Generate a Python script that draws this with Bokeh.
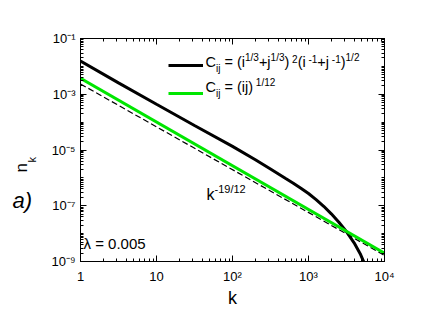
import numpy as np
from bokeh.plotting import figure
from bokeh.layouts import row
from bokeh.models import (Range1d, FixedTicker, CustomJSTickFormatter, LogAxis,
                          Label, Legend, LegendItem)
from bokeh.core.properties import value
from bokeh.embed import file_html
from bokeh.resources import INLINE

# ---------------- data ----------------
k_black = [1, 3.16, 10, 31.6, 100, 200, 316, 501, 631, 794, 1000, 1259, 1585,
           1995, 2512, 3162, 3981, 4786, 5370, 5754]
n_black = [1.55e-2, 2.55e-3, 4.37e-4, 7.6e-5, 1.35e-5, 4.47e-6, 2.09e-6,
           9.55e-7, 6.46e-7, 4.27e-7, 2.75e-7, 1.66e-7, 9.55e-8, 5.13e-8,
           2.57e-8, 1.17e-8, 4.68e-9, 1.91e-9, 9.3e-10, 5.6e-10]
k_green = [1, 1e4]
n_green = [3.72e-3, 2.0e-9]
k_ref = [1, 1e4]
n_ref = [2.34e-3, 1.66e-9]

x_major = [1, 10, 100, 1000, 10000]
x_minor = [m * 10 ** e for e in range(0, 4) for m in range(1, 10)] + [10000]
y_major = [1e-9, 1e-7, 1e-5, 1e-3, 1e-1]
y_minor = [m * 10.0 ** e for e in range(-9, -1) for m in range(1, 10)] + [1e-1]

FONT = "Liberation Sans"
H = 316
LEFT_W = 46
TOP, BOTTOM = 38, 55

p = figure(width=447 - LEFT_W, height=H, x_axis_type="log", y_axis_type="log",
           x_range=Range1d(1, 1e4), y_range=Range1d(1e-9, 1e-1),
           output_backend="svg", toolbar_location=None,
           min_border_left=80 - LEFT_W, min_border_right=63, min_border_top=TOP,
           min_border_bottom=BOTTOM)
p.grid.visible = False
p.outline_line_color = "black"
p.background_fill_color = "white"

fmt_code = """
const e = Math.round(Math.log10(tick));
if (e == 0) return "1";
if (e == 1) return "10";
const sup = {"-":"\u207b","0":"\u2070","1":"\u00b9","2":"\u00b2","3":"\u00b3","4":"\u2074",
             "5":"\u2075","6":"\u2076","7":"\u2077","8":"\u2078","9":"\u2079"};
let s = "10";
const t = String(e);
for (let i = 0; i < t.length; i++) { s += sup[t[i]]; }
return s;
"""

def style_axis(ax, show_labels):
    ax.major_tick_in = 6
    ax.major_tick_out = 0
    ax.minor_tick_in = 3
    ax.minor_tick_out = 0
    ax.axis_line_color = "black"
    ax.major_tick_line_color = "black"
    ax.minor_tick_line_color = "black"
    ax.major_label_text_font = FONT
    ax.major_label_text_font_size = "13px"
    ax.major_label_text_color = "black"
    if show_labels:
        ax.formatter = CustomJSTickFormatter(code=fmt_code)
    else:
        ax.formatter = CustomJSTickFormatter(code='return "";')
        ax.major_label_standoff = 0

p.xaxis[0].ticker = FixedTicker(ticks=x_major, minor_ticks=x_minor)
p.yaxis[0].ticker = FixedTicker(ticks=y_major, minor_ticks=y_minor)
style_axis(p.xaxis[0], True)
style_axis(p.yaxis[0], True)
p.xaxis[0].major_label_standoff = 7
p.yaxis[0].major_label_standoff = 5
p.xaxis[0].axis_label = "k"
p.xaxis[0].axis_label_text_font = FONT
p.xaxis[0].axis_label_text_font_size = "18px"
p.xaxis[0].axis_label_text_font_style = "normal"
p.xaxis[0].axis_label_text_color = "black"
p.xaxis[0].axis_label_standoff = 1

top = LogAxis(ticker=FixedTicker(ticks=x_major, minor_ticks=x_minor))
right = LogAxis(ticker=FixedTicker(ticks=y_major, minor_ticks=y_minor))
style_axis(top, False)
style_axis(right, False)
p.add_layout(top, "above")
p.add_layout(right, "right")

# ---------------- lines ----------------
r_ref = p.line(k_ref, n_ref, line_color="black", line_width=1.2, line_dash="6 3")
r_black = p.line(k_black, n_black, line_color="black", line_width=3)
r_green = p.line(k_green, n_green, line_color="#00e600", line_width=3)

legend = Legend(items=[LegendItem(label=value(" "), renderers=[r_black]),
                       LegendItem(label=value(" "), renderers=[r_green])],
                location=(88, 158), padding=0, margin=0, spacing=8,
                glyph_width=35, glyph_height=20, label_height=20,
                label_standoff=0, border_line_color=None,
                background_fill_alpha=0, label_text_font_size="10px")
p.add_layout(legend)

# ---------------- rich text ----------------
W = {' ': 278, '(': 333, ')': 333, '+': 584, '-': 333, '.': 278, '/': 278,
     '=': 584, 'C': 722, 'i': 222, 'j': 222, 'k': 500, 'n': 556, 'a': 556}
for d in "0123456789":
    W[d] = 556

def tw(txt, size):
    return sum(W.get(c, 556) for c in txt) * size / 1000.0

def rich(pieces, dx, dy, base, small, sup_up, sub_dn):
    x = dx
    for txt, kind in pieces:
        size = base if kind == "n" else small
        off = 0 if kind == "n" else (sup_up if kind == "sup" else -sub_dn)
        lead = len(txt) - len(txt.lstrip(" "))
        x += lead * W[' '] * size / 1000.0
        body = txt.strip(" ")
        p.add_layout(Label(x=1, y=1e-9, x_offset=x, y_offset=dy + off, text=body,
                           text_font=FONT, text_font_size=f"{size}px",
                           text_color="black"))
        x += tw(txt.lstrip(" "), size)

row1 = [("C", "n"), ("ij", "sub"), (" = (i", "n"), ("1/3", "sup"), ("+j", "n"),
        ("1/3", "sup"), (")", "n"), (" 2", "sup"), ("(i", "n"), (" -1", "sup"),
        ("+j", "n"), (" -1", "sup"), (")", "n"), ("1/2", "sup")]
row2 = [("C", "n"), ("ij", "sub"), (" = (ij)", "n"), (" 1/12", "sup")]
rich(row1, 125, 192, 14.5, 10, 7, 4)
rich(row2, 125, 167, 14.5, 10, 7, 4)

rich([("k", "n"), ("-19/12", "sup")], 126, 59, 16, 11, 8, 0)

p.add_layout(Label(x=1, y=1e-9, x_offset=3, y_offset=10, text="\u03bb = 0.005",
                   text_font=FONT, text_font_size="15px", text_color="black"))

# ---------------- left strip: panel letter and y-axis title ----------------
# (its frame is aligned with the main frame by the row layout)
left = figure(width=LEFT_W, height=H, x_range=Range1d(0, LEFT_W),
              y_range=Range1d(BOTTOM, H - TOP), output_backend="svg",
              toolbar_location=None, min_border=0, min_border_top=TOP,
              min_border_bottom=BOTTOM, x_axis_location=None,
              y_axis_location=None, outline_line_color=None)
left.grid.visible = False

left.add_layout(Label(x=12, y=H - 212, text="a)", text_font=FONT,
                      text_font_size="22px", text_font_style="italic",
                      text_color="black"))
left.add_layout(Label(x=30, y=H - 172, text="n", angle=np.pi / 2,
                      text_font=FONT, text_font_size="17px", text_color="black"))
left.add_layout(Label(x=37.7, y=H - 162, text="k", angle=np.pi / 2,
                      text_font=FONT, text_font_size="11px", text_color="black"))

layout = row(left, p, spacing=0)
open("out.html", "w").write(file_html(layout, INLINE))
